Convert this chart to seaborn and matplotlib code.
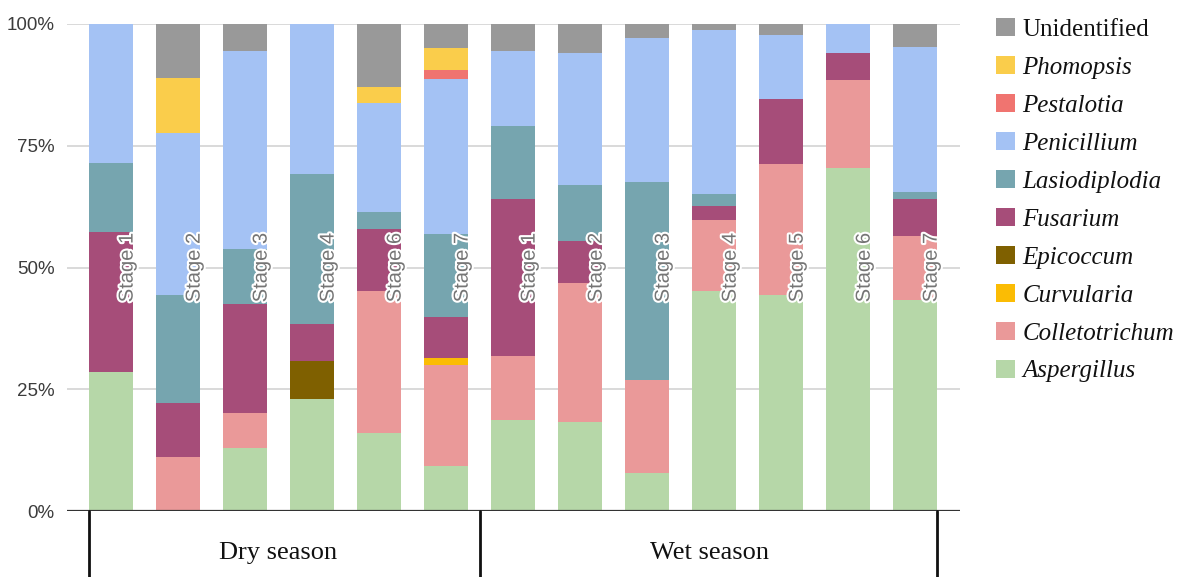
import matplotlib
matplotlib.use("Agg")
import matplotlib.pyplot as plt
import matplotlib.patheffects as pe
from matplotlib.patches import Patch
import seaborn as sns
import pandas as pd
import numpy as np

# ---- data (percent of isolates) ----
seasons = ["Dry season", "Wet season"]
dry_stages = ["Stage 1", "Stage 2", "Stage 3", "Stage 4", "Stage 6", "Stage 7"]
wet_stages = ["Stage 1", "Stage 2", "Stage 3", "Stage 4", "Stage 5", "Stage 6", "Stage 7"]

genera = ["Aspergillus", "Colletotrichum", "Curvularia", "Epicoccum", "Fusarium",
          "Lasiodiplodia", "Penicillium", "Pestalotia", "Phomopsis", "Unidentified"]

# values per bar: dry stages 1,2,3,4,6,7 then wet stages 1..7
aspergillus    = [28.6, 0.0, 12.9, 23.1, 16.1, 9.3,  18.6, 18.2, 7.9, 45.1, 44.4, 70.4, 43.3]
colletotrichum = [0.0, 11.1, 7.2, 0.0, 29.0, 20.7,   13.2, 28.6, 18.9, 14.7, 26.8, 18.0, 13.2]
curvularia     = [0.0, 0.0, 0.0, 0.0, 0.0, 1.5,      0.0, 0.0, 0.0, 0.0, 0.0, 0.0, 0.0]
epicoccum      = [0.0, 0.0, 0.0, 7.7, 0.0, 0.0,      0.0, 0.0, 0.0, 0.0, 0.0, 0.0, 0.0]
fusarium       = [28.6, 11.1, 22.5, 7.7, 12.9, 8.3,  32.2, 8.7, 0.0, 2.8, 13.3, 5.7, 7.5]
lasiodiplodia  = [14.3, 22.2, 11.1, 30.8, 3.3, 17.1, 15.1, 11.4, 40.8, 2.5, 0.0, 0.0, 1.5]
penicillium    = [28.5, 33.3, 40.8, 30.7, 22.5, 31.8, 15.4, 27.2, 29.5, 33.7, 13.2, 5.9, 29.8]
pestalotia     = [0.0, 0.0, 0.0, 0.0, 0.0, 1.9,      0.0, 0.0, 0.0, 0.0, 0.0, 0.0, 0.0]
phomopsis      = [0.0, 11.2, 0.0, 0.0, 3.2, 4.5,     0.0, 0.0, 0.0, 0.0, 0.0, 0.0, 0.0]
unidentified   = [0.0, 11.1, 5.5, 0.0, 13.0, 4.9,    5.5, 5.9, 2.9, 1.2, 2.3, 0.0, 4.7]

colors = {
    "Aspergillus": "#b6d7a8",
    "Colletotrichum": "#ea9999",
    "Curvularia": "#fbbc04",
    "Epicoccum": "#7f6000",
    "Fusarium": "#a64d79",
    "Lasiodiplodia": "#76a5af",
    "Penicillium": "#a4c2f4",
    "Pestalotia": "#f07470",
    "Phomopsis": "#facd4b",
    "Unidentified": "#999999",
}

values = {
    "Aspergillus": aspergillus, "Colletotrichum": colletotrichum, "Curvularia": curvularia,
    "Epicoccum": epicoccum, "Fusarium": fusarium, "Lasiodiplodia": lasiodiplodia,
    "Penicillium": penicillium, "Pestalotia": pestalotia, "Phomopsis": phomopsis,
    "Unidentified": unidentified,
}

bar_ids = [f"Dry {s}" for s in dry_stages] + [f"Wet {s}" for s in wet_stages]
stage_labels = dry_stages + wet_stages

df = pd.DataFrame({"bar": bar_ids})
for g in genera:
    df[g] = np.array(values[g]) / 100.0
cum = df[genera].cumsum(axis=1)
# normalise so every bar reaches 100%
cum = cum.div(cum[genera[-1]], axis=0)

sns.set_theme(style="white")
plt.rcParams["font.family"] = ["Liberation Sans", "DejaVu Sans"]

fig = plt.figure(figsize=(11.79, 5.77), dpi=100)
ax = fig.add_axes([67 / 1179, 66 / 577, (960 - 67) / 1179, (511 - 24) / 577])

# gridlines
for yv in [0.25, 0.5, 0.75, 1.0]:
    ax.axhline(yv, color="#d9d9d9", lw=1.4, zorder=0)

# stacked bars via layered seaborn barplots (top cumulative first)
for g in reversed(genera):
    d = pd.DataFrame({"bar": bar_ids, "val": cum[g].values})
    sns.barplot(data=d, x="bar", y="val", order=bar_ids, color=colors[g],
                saturation=1, width=0.657, errorbar=None, ax=ax, zorder=2,
                linewidth=0)

ax.set_xlim(-0.657, 12.67)
ax.set_ylim(0, 1)
ax.set_xlabel("")
ax.set_ylabel("")
ax.set_xticks([])
ax.set_yticks([0, 0.25, 0.5, 0.75, 1.0])
ax.set_yticklabels(["0%", "25%", "50%", "75%", "100%"], color="#3c3c3c", fontsize=13.5)
ax.tick_params(axis="y", length=0, pad=9)
for s in ax.spines.values():
    s.set_visible(False)
ax.axhline(0, color="#333333", lw=1.6, zorder=3)

# stage labels
for i, lab in enumerate(stage_labels):
    ax.text(i + 0.24, 0.5, lab, rotation=90, ha="center", va="center",
            fontsize=14.5, color="#757575", zorder=5,
            path_effects=[pe.withStroke(linewidth=3, foreground="white")])

# season group boxes
n_dry = len(dry_stages)
n_all = len(bar_ids)
sep = [-0.33, n_dry - 0.5, n_all - 1 + 0.33]
for xv in sep:
    ax.plot([xv, xv], [0, -0.16], color="#111111", lw=2, clip_on=False, zorder=4)
ax.text(2.49, -0.086, seasons[0], ha="center", va="center", fontsize=19,
        family="Liberation Serif", color="#111111")
ax.text(8.93, -0.086, seasons[1], ha="center", va="center", fontsize=19,
        family="Liberation Serif", color="#111111")

# legend
handles = []
for g in reversed(genera):
    handles.append(Patch(facecolor=colors[g], edgecolor="none", label=g))
leg = fig.legend(handles=handles, loc="upper left",
                 bbox_to_anchor=(996 / 1179, (577 - 18) / 577),
                 frameon=False, borderpad=0, borderaxespad=0,
                 handlelength=0.76, handleheight=0.76,
                 handletextpad=0.3, labelspacing=0.6,
                 prop={"family": "Liberation Serif", "size": 18})
for t in leg.get_texts():
    if t.get_text() != "Unidentified":
        t.set_fontstyle("italic")
    t.set_color("#111111")

fig.savefig("out.png", dpi=100)
